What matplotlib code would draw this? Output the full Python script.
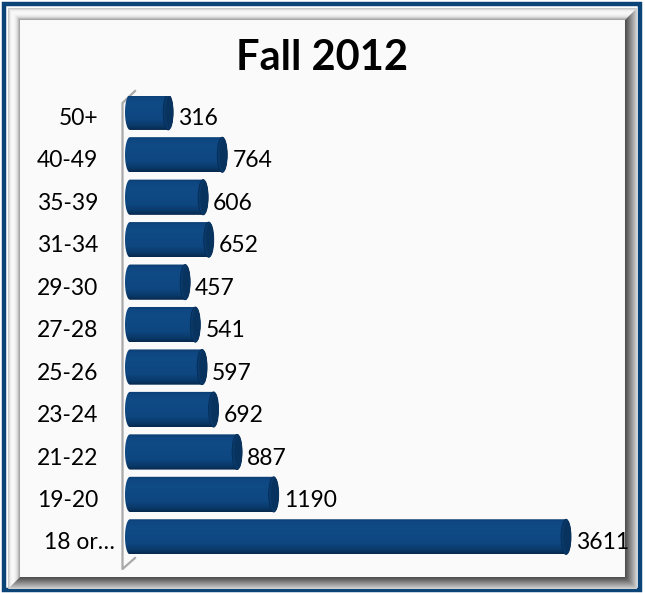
import numpy as np
import matplotlib
matplotlib.use('Agg')
import matplotlib.pyplot as plt
from matplotlib.patches import Rectangle, Ellipse, Polygon
from matplotlib.colors import LinearSegmentedColormap
import matplotlib.transforms as mtransforms

# 数据（从上到下的顺序）
age_groups = ['50+', '40-49', '35-39', '31-34', '29-30', '27-28',
              '25-26', '23-24', '21-22', '19-20', '18 or…']
students = [316, 764, 606, 652, 457, 541, 597, 692, 887, 1190, 3611]
title = 'Fall 2012'

plt.rcParams['font.family'] = ['Lato', 'DejaVu Sans']

W, H = 645, 593
fig = plt.figure(figsize=(W / 100, H / 100), dpi=100)
fig.patch.set_facecolor('white')


def fx(px):
    return px / W


def fy(py):
    return (H - py) / H


# ---------------- 外框（蓝色边 + 灰色立体框）
fig.add_artist(Rectangle((fx(3.5), fy(589.5)), fx(636), (586) / H,
                         transform=fig.transFigure, fill=False,
                         edgecolor='#0b4577', linewidth=3.2, zorder=0))
fig.add_artist(Rectangle((fx(20), fy(576)), fx(606), 556 / H,
                         transform=fig.transFigure, facecolor='#fafafa',
                         edgecolor='none', zorder=0))
tl_cols = ['#c9c9c9', '#dcdcdc', '#ececec', '#f5f5f5', '#f8f8f8', '#f8f8f8',
           '#f4f4f4', '#eeeeee', '#e4e4e4', '#d4d4d4', '#bcbcbc', '#a8a8a8']
br_cols = ['#d0d0d0', '#c4c4c4', '#b8b8b8', '#acacac', '#a0a0a0', '#949494',
           '#888888', '#7c7c7c', '#707070', '#646464', '#5a5a5a', '#505050']
for k in range(12):
    x0, y0 = 8 + k, 8 + k
    x1, y1 = 636 - k, 588 - k
    fig.add_artist(plt.Line2D([fx(x0), fx(x0), fx(x1)], [fy(y1), fy(y0), fy(y0)],
                              transform=fig.transFigure, color=tl_cols[k],
                              linewidth=0.75, solid_capstyle='butt', zorder=0))
    fig.add_artist(plt.Line2D([fx(x0), fx(x1), fx(x1)], [fy(y1), fy(y1), fy(y0)],
                              transform=fig.transFigure, color=br_cols[k],
                              linewidth=0.75, solid_capstyle='butt', zorder=0))

# ---------------- 标题
fig.text(0.5, fy(70), title, ha='center', va='baseline',
         fontsize=30, fontweight='bold', color='black')

# 3D 背景墙的线
wall = plt.Line2D([fx(135), fx(122.5), fx(122.5), fx(135)],
                  [fy(91), fy(103), fy(569), fy(558)],
                  transform=fig.transFigure, color='#a9a9a9', linewidth=1.6, zorder=1)
fig.add_artist(wall)

# ---------------- 坐标轴区域
px_per_x = 483 / 4000
cap_w = 10 / px_per_x
x_min = -cap_w
ax = fig.add_axes([fx(120), 29.8 / H, 493 / W, 467 / H])
ax.set_zorder(5)
ax.patch.set_visible(False)
ax.axis('off')

bar_cmap = LinearSegmentedColormap.from_list(
    'bar', [(0.0, '#06294e'), (0.12, '#0a3a6a'), (0.3, '#0e4680'),
            (0.75, '#104b86'), (0.92, '#0e4680'), (1.0, '#0b3d70')])
bar_h = 0.83
shift = 0.12

n = len(students)
for idx, (lab, v) in enumerate(zip(age_groups, students)):
    yc = n - 1 - idx
    yb = yc + shift
    t = np.linspace(np.pi / 2, 3 * np.pi / 2, 30)
    left = np.column_stack([0 + cap_w / 2 * np.cos(t), yb + bar_h / 2 * np.sin(t)])
    t2 = np.linspace(-np.pi / 2, np.pi / 2, 30)
    right = np.column_stack([v + cap_w / 2 * np.cos(t2), yb + bar_h / 2 * np.sin(t2)])
    shape = Polygon(np.vstack([left, right]), closed=True, facecolor='none',
                    edgecolor='none', transform=ax.transData)
    ax.add_patch(shape)
    grad = np.linspace(0, 1, 64).reshape(-1, 1)
    im = ax.imshow(grad, cmap=bar_cmap, aspect='auto', origin='lower',
                   extent=(-cap_w / 2, v + cap_w / 2, yb - bar_h / 2, yb + bar_h / 2),
                   zorder=3, interpolation='bilinear')
    im.set_clip_path(shape)
    # 右端的圆柱截面
    ax.add_patch(Ellipse((v, yb), cap_w, bar_h, facecolor='#0a3a6b',
                         edgecolor='#062c55', linewidth=0.6, zorder=4))
    ax.add_patch(Ellipse((v + cap_w * 0.1, yb), cap_w * 0.75, bar_h * 0.9,
                         facecolor='#08335f', edgecolor='none', zorder=4))

    # 数值标签
    tr = ax.transData + mtransforms.ScaledTranslation(10 / 100, -1 / 100, fig.dpi_scale_trans)
    ax.text(v, yc, str(v), transform=tr, ha='left', va='center',
            fontsize=16.5, color='black', zorder=5)
    # 类别标签
    off = -15 if lab.endswith('…') else -32
    tr2 = ax.transData + mtransforms.ScaledTranslation(off / 100, -1 / 100, fig.dpi_scale_trans)
    ax.text(0, yc, lab, transform=tr2, ha='right', va='center',
            fontsize=16.5, color='black', zorder=5)

ax.set_xlim(x_min, 4000)
ax.set_ylim(-0.5, len(students) - 0.5)

fig.savefig('out.png', dpi=100)
